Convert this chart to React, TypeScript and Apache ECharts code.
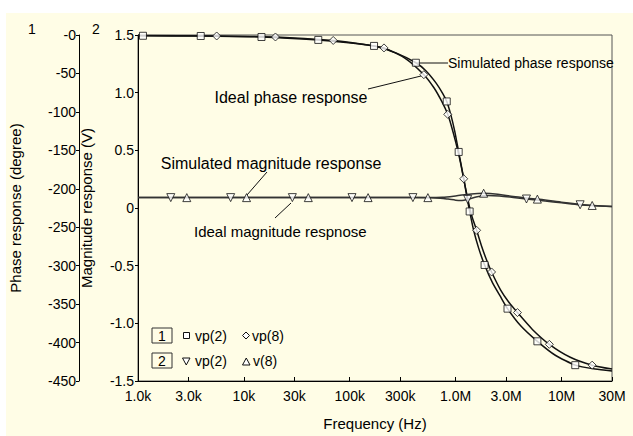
import React, { useEffect, useRef } from "react";
import * as echarts from "echarts";

// X axis ticks (Hz)
const FREQ_TICKS = [1e3, 3e3, 1e4, 3e4, 1e5, 3e5, 1e6, 3e6, 1e7, 3e7];
const FREQ_TICK_LABELS = ["1.0k", "3.0k", "10k", "30k", "100k", "300k", "1.0M", "3.0M", "10M", "30M"];

// Simulated phase response vp(2) (degrees)
const simPhaseFreq = [1000, 1114, 3914, 14670, 50430, 92500, 169600, 273200, 421300, 523000, 649500, 756300, 824500, 899000, 980600, 1069000, 1166000, 1272000, 1357000, 1480000, 1650000, 1878000, 2234000, 2656000, 3091000, 4097000, 5920000, 8741000, 13490000, 20800000, 30000000];
const simPhaseDeg = [-0.6, -1.0, -1.3, -2.6, -6.4, -9.7, -14.2, -23.2, -36.1, -46.4, -61.9, -76.1, -86.4, -103.2, -125.1, -152.1, -179.2, -208.9, -229.5, -254.0, -277.2, -299.1, -322.4, -340.4, -355.9, -377.8, -398.4, -416.5, -429.4, -434.5, -437.1];
const simPhaseMarkers = [1114, 3914, 14670, 50430, 169600, 421300, 824500, 1069000, 1357000, 1878000, 3091000, 5920000, 13490000];

// Ideal phase response vp(8) (degrees)
const idealPhaseFreq = [1000, 5536, 19870, 69800, 128000, 210600, 339300, 501100, 622000, 739900, 842500, 918900, 1002000, 1093000, 1192000, 1300000, 1417000, 1579000, 1760000, 1961000, 2186000, 2656000, 3159000, 3838000, 5312000, 7678000, 12100000, 19480000, 30000000];
const idealPhaseDeg = [-0.6, -1.3, -2.6, -7.1, -11.6, -16.8, -30.9, -51.6, -68.3, -86.4, -103.2, -119.9, -139.3, -161.2, -187.0, -212.8, -234.7, -254.0, -274.6, -292.7, -308.2, -331.4, -346.9, -361.0, -382.9, -402.3, -419.1, -429.4, -434.5];
const idealPhaseMarkers = [5536, 19870, 69800, 210600, 501100, 842500, 1192000, 1579000, 2186000, 3838000, 7678000, 19480000];

// Ideal magnitude response vp(2) (V)
const idealMagFreq = [1000, 2040, 7500, 28700, 105000, 395000, 650000, 850000, 1000000, 1150000, 1300000, 1600000, 2000000, 2600000, 3500000, 4670000, 7000000, 10000000, 15000000, 30000000];
const idealMagV = [0.09, 0.09, 0.09, 0.09, 0.09, 0.09, 0.087, 0.077, 0.068, 0.066, 0.075, 0.098, 0.108, 0.104, 0.092, 0.078, 0.06, 0.045, 0.028, 0.012];
const idealMagMarkers = [2040, 7500, 28700, 105000, 395000, 1300000, 4670000, 15000000];

// Simulated magnitude response v(8) (V)
const simMagFreq = [1000, 2890, 10600, 40600, 149000, 547000, 750000, 1000000, 1400000, 1840000, 2500000, 3500000, 5920000, 10000000, 19500000, 30000000];
const simMagV = [0.09, 0.09, 0.09, 0.09, 0.09, 0.09, 0.093, 0.105, 0.122, 0.128, 0.12, 0.1, 0.077, 0.05, 0.022, 0.012];
const simMagMarkers = [2890, 10600, 40600, 149000, 547000, 1840000, 5920000, 19500000];

const FONT = "'Liberation Sans', Arial, sans-serif";
const BG = "#fffde6";

function pts(freq: number[], vals: number[]) {
  return freq.map((f, i) => [Math.log10(f), vals[i]]);
}
function markerPts(freq: number[], vals: number[], marks: number[]) {
  return freq
    .map((f, i) => [f, vals[i]])
    .filter(([f]) => marks.includes(f))
    .map(([f, v]) => [Math.log10(f), v]);
}

export default function App() {
  const ref = useRef<HTMLDivElement>(null);
  useEffect(() => {
    if (!ref.current) return;
    const chart = echarts.init(ref.current, undefined, { renderer: "svg" });
    const tickVals = FREQ_TICKS.map((f) => Math.log10(f));
    const lineStyle = { color: "#111", width: 1.5 };
    const magLineStyle = { color: "#333", width: 1.5 };
    const markerStyle = { color: "#fff", borderColor: "#111", borderWidth: 1 };
    const txt = { fontFamily: FONT, fontSize: 14, color: "#000" };
    const t = (x: number, y: number, text: string, size = 14, align = "left") => ({
      type: "text",
      x,
      y,
      style: { text, font: `${size}px ${FONT}`, fill: "#000", textAlign: align, textVerticalAlign: "middle" },
    });
    const ln = (x1: number, y1: number, x2: number, y2: number) => ({
      type: "line",
      shape: { x1, y1, x2, y2 },
      style: { stroke: "#111", lineWidth: 1 },
    });
    chart.setOption({
      animation: false,
      backgroundColor: "#ffffff",
      textStyle: { fontFamily: FONT },
      grid: { left: 136, right: 21, top: 35, bottom: 52, show: true, borderColor: "#555", borderWidth: 1, backgroundColor: "transparent" },
      xAxis: {
        type: "value",
        min: 3,
        max: Math.log10(3e7),
        name: "Frequency (Hz)",
        nameLocation: "middle",
        nameGap: 35,
        nameTextStyle: { ...txt, fontSize: 15 },
        axisLine: { onZero: false, lineStyle: { color: "#000", width: 1 } },
        axisTick: { customValues: tickVals, inside: true, length: 4, lineStyle: { color: "#000" } },
        axisLabel: {
          customValues: tickVals,
          ...txt,
          margin: 8,
          formatter: (v: number) => {
            const i = tickVals.findIndex((tv) => Math.abs(tv - v) < 1e-6);
            return i >= 0 ? FREQ_TICK_LABELS[i] : "";
          },
        },
        splitLine: { show: false },
      },
      yAxis: [
        {
          type: "value",
          position: "left",
          min: -1.5,
          max: 1.5,
          interval: 0.5,
          name: "Magnitude response (V)",
          nameLocation: "middle",
          nameGap: 44,
          nameRotate: 90,
          nameTextStyle: { ...txt, fontSize: 15 },
          axisLine: { show: true, onZero: false, lineStyle: { color: "#000", width: 1 } },
          axisTick: { show: true, length: 3, lineStyle: { color: "#000" } },
          axisLabel: { ...txt, margin: 4, formatter: (v: number) => (v === 0 ? "0" : v.toFixed(1)) },
          splitLine: { show: false },
        },
        {
          type: "value",
          position: "left",
          offset: 59,
          min: -450,
          max: 0,
          interval: 50,
          name: "Phase response (degree)",
          nameLocation: "middle",
          nameGap: 56,
          nameRotate: 90,
          nameTextStyle: { ...txt, fontSize: 15 },
          axisLine: { show: true, onZero: false, lineStyle: { color: "#000", width: 1 } },
          axisTick: { show: true, length: 3, lineStyle: { color: "#000" } },
          axisLabel: { ...txt, margin: 3, formatter: (v: number) => (v === 0 ? "-0" : String(v)) },
          splitLine: { show: false },
        },
      ],
      series: [
        { type: "line", yAxisIndex: 1, data: pts(simPhaseFreq, simPhaseDeg), smooth: 0.2, showSymbol: false, lineStyle, z: 2 },
        { type: "line", yAxisIndex: 1, data: pts(idealPhaseFreq, idealPhaseDeg), smooth: 0.2, showSymbol: false, lineStyle, z: 2 },
        { type: "line", yAxisIndex: 0, data: pts(idealMagFreq, idealMagV), smooth: 0.3, showSymbol: false, lineStyle: magLineStyle, z: 2 },
        { type: "line", yAxisIndex: 0, data: pts(simMagFreq, simMagV), smooth: 0.3, showSymbol: false, lineStyle: magLineStyle, z: 2 },
        { type: "scatter", yAxisIndex: 1, data: markerPts(simPhaseFreq, simPhaseDeg, simPhaseMarkers), symbol: "rect", symbolSize: 7, itemStyle: markerStyle, z: 5 },
        { type: "scatter", yAxisIndex: 1, data: markerPts(idealPhaseFreq, idealPhaseDeg, idealPhaseMarkers), symbol: "diamond", symbolSize: 8, itemStyle: markerStyle, z: 5 },
        { type: "scatter", yAxisIndex: 0, data: markerPts(idealMagFreq, idealMagV, idealMagMarkers), symbol: "triangle", symbolRotate: 180, symbolSize: 8, itemStyle: markerStyle, z: 5 },
        { type: "scatter", yAxisIndex: 0, data: markerPts(simMagFreq, simMagV, simMagMarkers), symbol: "triangle", symbolSize: 8, itemStyle: markerStyle, z: 5 },
      ],
      graphic: [
        { type: "rect", z: -100, silent: true, shape: { x: 6, y: 13, width: 627, height: 423 }, style: { fill: BG } },
        t(32, 29, "1", 14, "center"),
        t(96, 29, "2", 14, "center"),
        // annotations
        ln(417, 63, 448, 63),
        t(448, 63, "Simulated phase response", 14),
        ln(368, 89, 421, 76),
        t(291, 97, "Ideal phase response", 16, "center"),
        ln(267, 172, 247, 195),
        t(271, 163, "Simulated magnitude response", 16, "center"),
        ln(275, 218, 291, 203),
        t(194, 231, "Ideal magnitude respnose", 15),
        // legend
        { type: "rect", shape: { x: 152, y: 328, width: 20, height: 15 }, style: { fill: "none", stroke: "#333", lineWidth: 1 } },
        t(162, 336, "1", 14, "center"),
        { type: "rect", shape: { x: 152, y: 353, width: 20, height: 15 }, style: { fill: "none", stroke: "#333", lineWidth: 1 } },
        t(162, 361, "2", 14, "center"),
        { type: "rect", shape: { x: 183.5, y: 332.5, width: 6, height: 6 }, style: { fill: "#fff", stroke: "#111", lineWidth: 1 } },
        t(195, 336, "vp(2)"),
        { type: "polygon", shape: { points: [[246, 332], [249.5, 335.5], [246, 339], [242.5, 335.5]] }, style: { fill: "#fff", stroke: "#111", lineWidth: 1 } },
        t(252, 336, "vp(8)"),
        { type: "polygon", shape: { points: [[182.5, 358], [190, 358], [186.25, 365]] }, style: { fill: "#fff", stroke: "#111", lineWidth: 1 } },
        t(195, 361, "vp(2)"),
        { type: "polygon", shape: { points: [[242.5, 365], [250, 365], [246.25, 358]] }, style: { fill: "#fff", stroke: "#111", lineWidth: 1 } },
        t(253, 361, "v(8)"),
      ],
    });
    return () => chart.dispose();
  }, []);
  return <div ref={ref} style={{ position: "fixed", left: 0, top: 0, width: 633, height: 436 }} />;
}
